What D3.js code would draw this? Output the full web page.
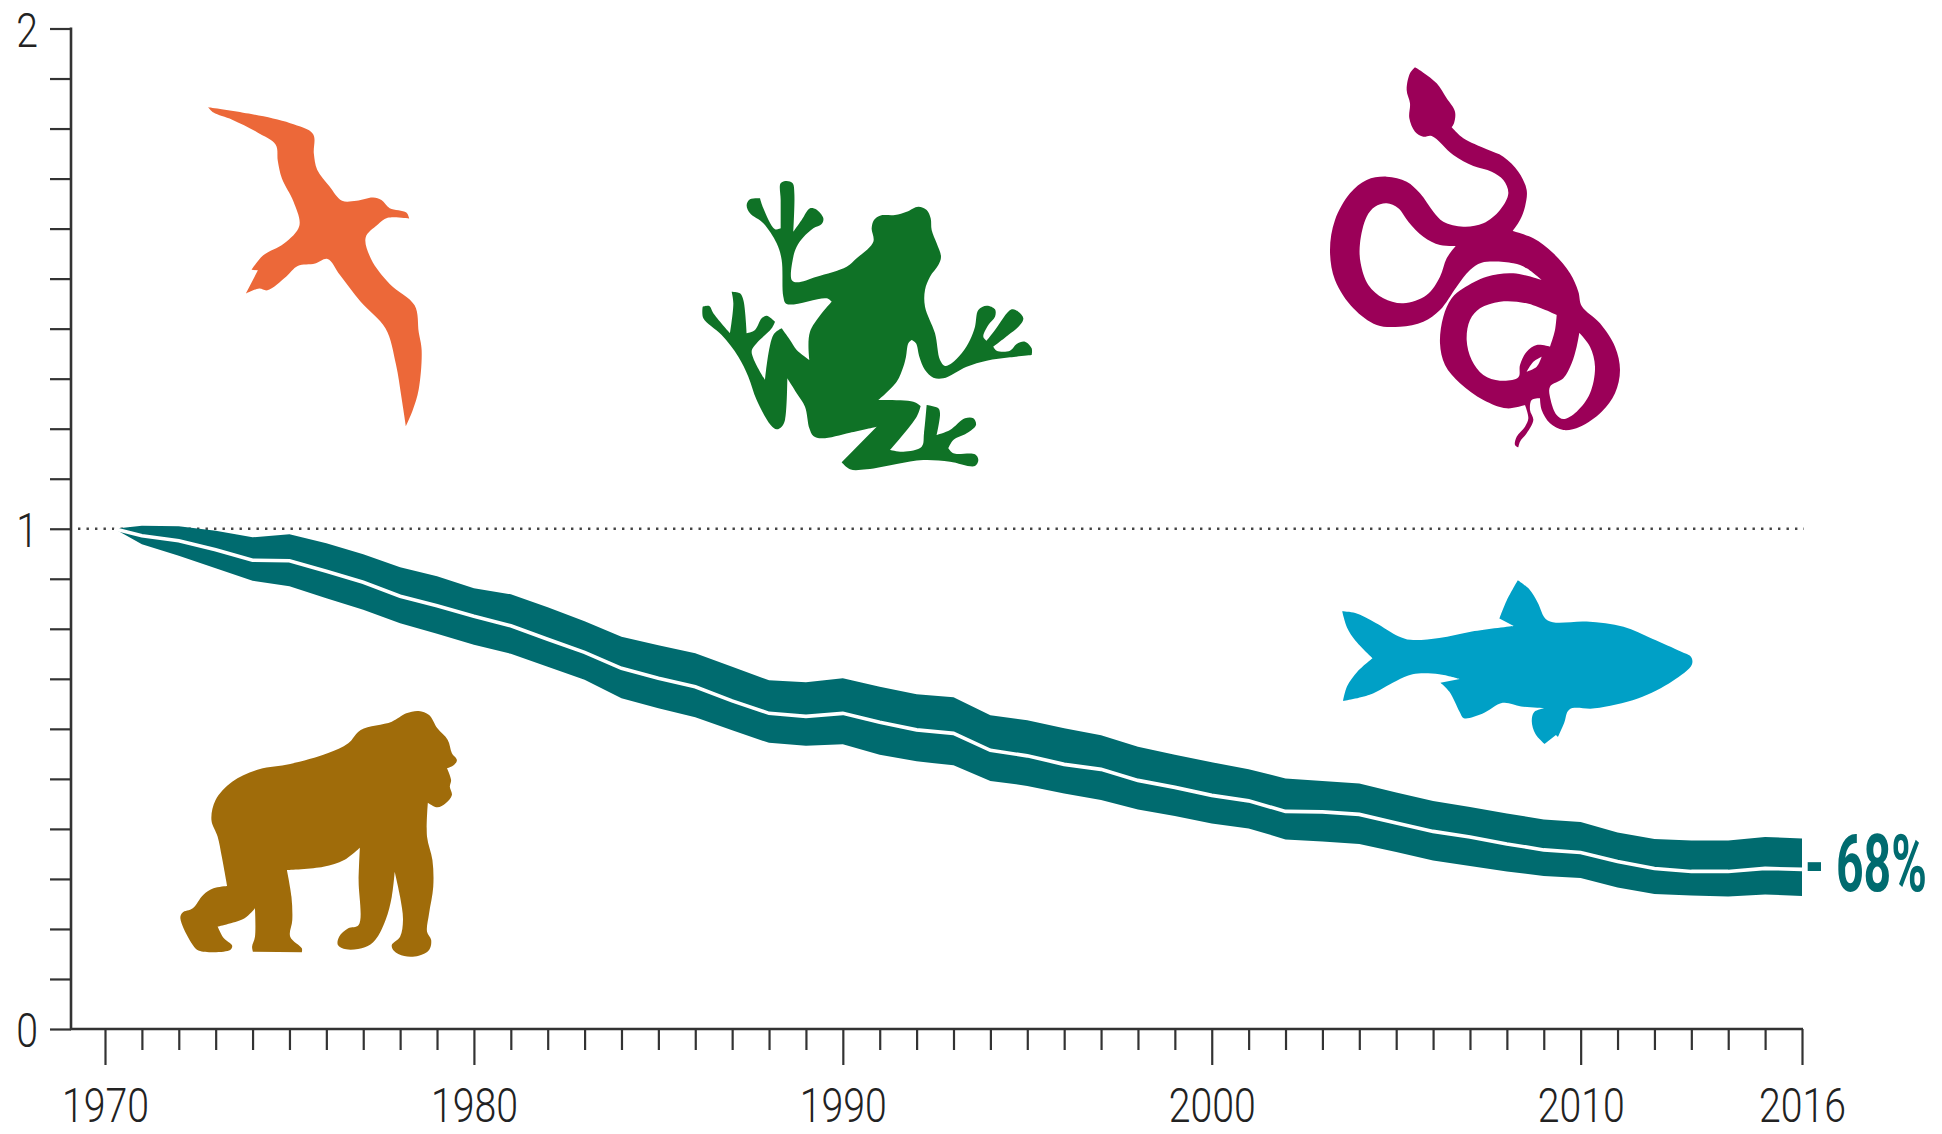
<!DOCTYPE html>
<html><head><meta charset="utf-8">
<script src="https://cdn.jsdelivr.net/npm/d3@7/dist/d3.min.js"></script>
<style>
html,body{margin:0;padding:0;background:#fff}
svg{display:block}
</style></head><body>
<script>
// ---- data ----
const years = [1970.25,1971,1972,1973,1974,1975,1976,1977,1978,1979,1980,1981,1982,1983,1984,1985,1986,1987,1988,1989,1990,1991,1992,1993,1994,1995,1996,1997,1998,1999,2000,2001,2002,2003,2004,2005,2006,2007,2008,2009,2010,2011,2012,2013,2014,2015,2016];
const upper = [1.0,1.006,1.005,0.996,0.983,0.989,0.971,0.949,0.923,0.905,0.881,0.869,0.843,0.815,0.784,0.767,0.751,0.724,0.697,0.693,0.701,0.684,0.669,0.663,0.627,0.617,0.601,0.587,0.564,0.548,0.533,0.519,0.501,0.496,0.491,0.473,0.456,0.444,0.431,0.419,0.414,0.393,0.380,0.377,0.377,0.384,0.381];
const centre = [1.0,0.986,0.976,0.958,0.937,0.936,0.915,0.893,0.865,0.846,0.825,0.806,0.779,0.753,0.721,0.701,0.684,0.656,0.631,0.625,0.631,0.613,0.598,0.591,0.557,0.546,0.529,0.519,0.497,0.483,0.467,0.456,0.435,0.434,0.429,0.412,0.395,0.384,0.370,0.358,0.353,0.335,0.321,0.315,0.315,0.321,0.319];
const lower = [1.0,0.969,0.946,0.921,0.896,0.885,0.861,0.838,0.811,0.790,0.768,0.750,0.724,0.698,0.661,0.641,0.623,0.597,0.572,0.566,0.569,0.548,0.535,0.527,0.496,0.486,0.471,0.458,0.439,0.426,0.411,0.401,0.379,0.375,0.370,0.354,0.337,0.326,0.315,0.306,0.302,0.283,0.270,0.267,0.265,0.269,0.266];
const yTicks = [0,0.1,0.2,0.3,0.4,0.5,0.6,0.7,0.8,0.9,1,1.1,1.2,1.3,1.4,1.5,1.6,1.7,1.8,1.9,2];
const yLabels = [0,1,2];
const xMinor = [1971,1972,1973,1974,1975,1976,1977,1978,1979,1981,1982,1983,1984,1985,1986,1987,1988,1989,1991,1992,1993,1994,1995,1996,1997,1998,1999,2001,2002,2003,2004,2005,2006,2007,2008,2009,2011,2012,2013,2014,2015];
const xMajor = [1970,1980,1990,2000,2010,2016];
const changeLabel = "- 68%";

// ---- silhouettes (decoration, not data) ----
const birdPts = [[502,300],[600,318],[700,345],[755,375],[757,430],[765,475],[795,522],[825,562],[860,562],[900,553],[920,560],[940,583],[980,595],[987,612],[935,610],[910,630],[882,665],[895,725],[940,795],[1000,855],[1010,930],[1017,980],[1010,1090],[995,1150],[979,1193],[968,1110],[955,1020],[930,920],[870,845],[820,770],[790,725],[760,738],[718,745],[690,775],[645,813],[625,808],[593,822],[622,757],[607,755],[635,715],[685,682],[722,632],[708,565],[680,500],[670,450],[665,405],[620,370],[560,335],[515,315]];
const frogPts = [[392,100],[410,93],[428,100],[433,130],[430,245],[455,210],[480,175],[498,178],[520,205],[515,222],[490,235],[460,262],[440,290],[430,320],[425,390],[440,397],[500,380],[590,350],[620,325],[670,275],[665,235],[672,210],[690,197],[735,195],[770,185],[805,170],[830,180],[842,205],[845,240],[860,280],[873,320],[865,345],[840,380],[825,420],[825,470],[855,550],[870,630],[885,648],[905,640],[935,610],[960,570],[975,530],[985,480],[1010,467],[1035,478],[1035,500],[1015,525],[1000,560],[1010,572],[1035,540],[1085,478],[1105,485],[1120,505],[1110,525],[1075,555],[1030,590],[1040,602],[1080,602],[1100,582],[1125,575],[1145,595],[1145,615],[1080,622],[1010,632],[950,650],[880,685],[850,683],[825,660],[808,620],[798,580],[785,570],[775,580],[768,620],[760,650],[740,695],[685,750],[790,755],[812,768],[800,800],[720,900],[760,905],[815,890],[822,850],[830,765],[865,775],[870,790],[860,855],[900,840],[945,805],[970,805],[978,825],[950,850],[910,870],[895,895],[910,910],[975,913],[985,930],[975,948],[900,935],[820,930],[740,942],[650,958],[600,958],[575,937],[680,830],[600,848],[515,865],[490,858],[478,835],[465,770],[440,730],[412,685],[405,810],[395,830],[380,838],[362,825],[320,750],[295,680],[265,620],[215,555],[160,505],[158,470],[178,468],[190,490],[240,550],[250,460],[245,425],[270,430],[280,450],[290,550],[315,540],[335,505],[350,497],[375,515],[365,535],[320,580],[305,605],[345,690],[370,555],[395,535],[420,570],[440,600],[478,630],[480,545],[545,455],[530,445],[410,462],[400,440],[395,330],[380,280],[340,220],[300,190],[290,165],[300,148],[330,145],[340,175],[375,238],[392,235],[392,150]];
const snakeOuter = [[345,52],[370,68],[410,100],[440,145],[465,185],[462,220],[455,232],[490,265],[560,298],[610,320],[655,365],[680,420],[675,470],[660,510],[638,543],[700,565],[760,610],[810,670],[835,725],[845,768],[900,820],[945,890],[960,960],[945,1030],[905,1085],[840,1130],[790,1140],[750,1120],[725,1080],[720,1045],[695,1050],[690,1080],[700,1110],[680,1150],[660,1175],[655,1192],[645,1185],[650,1160],[675,1130],[685,1105],[675,1065],[620,1075],[550,1050],[480,1000],[435,945],[420,880],[430,800],[455,745],[490,715],[560,680],[640,670],[725,690],[680,655],[640,640],[545,638],[510,660],[470,710],[420,780],[370,815],[300,830],[230,825],[160,775],[105,690],[90,600],[105,510],[150,430],[200,390],[260,380],[320,395],[360,430],[400,485],[430,515],[490,530],[550,520],[600,480],[625,430],[610,390],[575,365],[520,348],[460,315],[395,258],[370,260],[345,245],[328,205],[330,160],[320,120],[330,70]];
const snakeHoleA = [[260,460],[295,475],[325,515],[370,560],[420,585],[467,588],[440,625],[420,680],[380,735],[310,760],[250,745],[205,705],[182,640],[180,580],[200,500],[225,470]];
const snakeHoleB = [[600,755],[680,760],[770,795],[765,840],[750,890],[710,885],[680,905],[660,945],[655,982],[600,992],[550,975],[515,930],[500,870],[510,810],[540,775]];
const snakeHoleC = [[838,848],[870,890],[885,950],[870,1030],[830,1085],[790,1107],[770,1095],[752,1050],[750,1010],[790,985],[815,940],[830,890]];
const snakeHoleD = [[680,965],[700,935],[725,920],[710,950]];
const fishPts = [[103,140],[135,145],[185,172],[240,208],[270,218],[340,213],[420,195],[522,180],[487,160],[505,110],[532,55],[560,80],[580,115],[605,165],[700,168],[790,182],[860,215],[930,250],[955,265],[957,285],[910,330],[825,378],[720,405],[658,408],[645,445],[630,483],[625,478],[597,502],[575,475],[566,440],[572,415],[597,405],[540,400],[495,390],[445,420],[400,432],[390,415],[365,360],[343,335],[390,325],[340,312],[275,312],[235,330],[170,368],[105,385],[115,345],[140,305],[177,268],[135,220],[115,185]];
const gorillaPts = [[1010,93],[1035,105],[1055,145],[1080,180],[1090,220],[1102,240],[1095,255],[1078,265],[1088,300],[1085,320],[1090,345],[1075,370],[1055,382],[1032,368],[1030,470],[1043,540],[1045,620],[1035,700],[1030,755],[1040,780],[1035,810],[1010,827],[975,828],[950,812],[945,795],[965,770],[972,720],[965,650],[952,575],[945,650],[930,720],[905,780],[880,802],[835,808],[815,795],[818,770],[840,745],[865,735],[865,600],[868,503],[830,540],[780,560],[692,570],[703,650],[705,720],[700,770],[728,805],[728,817],[610,815],[608,800],[615,770],[615,685],[590,715],[525,740],[540,775],[560,797],[555,810],[480,812],[465,795],[435,715],[440,698],[465,685],[490,645],[515,625],[548,618],[535,530],[525,470],[510,420],[520,360],[560,305],[625,268],[700,252],[790,220],[840,190],[870,150],[945,125],[980,100]];

// ---- layout ----
const W = 1942, H = 1134;
const axisX = 71, baseY = 1029, topY = 28.5;
const x = d3.scaleLinear().domain([1970,2016]).range([105,1802]);
const y = d3.scaleLinear().domain([0,2]).range([baseY,topY]);
const teal = "#006b6f", ink = "#333";
const labelFont = 'Roboto,"Liberation Sans",sans-serif';
const squeeze = 0.8;

const svg = d3.select("body").append("svg").attr("width",W).attr("height",H).attr("viewBox",`0 0 ${W} ${H}`);

// silhouettes: smooth runs between sharp corners, so tips stay sharp
const run = d3.line().curve(d3.curveCatmullRom.alpha(0.5));
function ringPath(pts){
  const n = pts.length;
  const corner = i => {
    const a = pts[(i+n-1)%n], b = pts[i], c = pts[(i+1)%n];
    const a1 = Math.atan2(b[1]-a[1],b[0]-a[0]), a2 = Math.atan2(c[1]-b[1],c[0]-b[0]);
    let t = Math.abs(a2-a1); if (t>Math.PI) t = 2*Math.PI-t;
    return t > 75*Math.PI/180;
  };
  const corners = d3.range(n).filter(corner);
  if (!corners.length) return d3.line().curve(d3.curveCatmullRomClosed.alpha(0.5))(pts);
  const start = corners[0];
  const order = d3.range(n+1).map(k => pts[(start+k)%n]);
  const flags = d3.range(n+1).map(k => corner((start+k)%n));
  let out = "", piece = [order[0]];
  for (let k=1;k<=n;k++){
    piece.push(order[k]);
    if (flags[k]){
      const s = run(piece);
      out += out ? s.replace(/^M/,"L") : s;
      piece = [order[k]];
    }
  }
  return out + "Z";
}
function shape(rings, ox, oy, sx, sy, fill){
  const d = rings.map(r => ringPath(r.map(p => [ox+p[0]*sx, oy+p[1]*sy]))).join(" ");
  svg.append("path").attr("d",d).attr("fill",fill).attr("fill-rule","evenodd");
}
shape([birdPts],0,0,1/2.412,1/2.8,"#ec6839");
shape([frogPts],650,150,1/3,1/3,"#0f7226");
shape([snakeOuter,snakeHoleA,snakeHoleB,snakeHoleC,snakeHoleD],1300,50,1/3,1/3,"#9b0058");
shape([fishPts],1300,560,1/2.442,1/2.73,"#00a0c6");
shape([gorillaPts],0,680,1/2.412,1/3,"#a06c0a");

// reference line at 1
svg.append("line").attr("x1",78).attr("x2",x(2016)+2).attr("y1",y(1)).attr("y2",y(1))
  .attr("stroke","#444").attr("stroke-width",2.4).attr("stroke-dasharray","2.4 6.1");

// band and central line
const rows = years.map((yr,i)=>({yr,u:upper[i],c:centre[i],l:lower[i]}));
svg.append("path").datum(rows).attr("fill",teal)
  .attr("d",d3.area().x(d=>x(d.yr)).y0(d=>y(d.l)).y1(d=>y(d.u)));
svg.append("path").datum(rows).attr("fill","none").attr("stroke","#fff").attr("stroke-width",3.6)
  .attr("d",d3.line().x(d=>x(d.yr)).y(d=>y(d.c)));

// axes
const yAxis = svg.append("g").attr("transform",`translate(${axisX},0)`)
  .call(d3.axisLeft(y).tickValues(yTicks).tickSize(21).tickPadding(12)
    .tickFormat(v=>yLabels.includes(v)?String(v):""));
const xMinorAxis = svg.append("g").attr("transform",`translate(0,${baseY})`)
  .call(d3.axisBottom(x).tickValues(xMinor).tickSize(21).tickFormat(""));
const xMajorAxis = svg.append("g").attr("transform",`translate(0,${baseY})`)
  .call(d3.axisBottom(x).tickValues(xMajor).tickSize(36).tickPadding(22).tickFormat(d3.format("d")));
[yAxis,xMinorAxis,xMajorAxis].forEach(g=>{
  g.selectAll(".domain").remove();
  g.selectAll("line").attr("stroke",ink).attr("stroke-width",2.2);
  g.selectAll("text").attr("font-size",49).attr("font-weight",300).attr("fill","#222")
    .style("font-family",labelFont);
});
xMajorAxis.selectAll("text").attr("transform",`scale(${squeeze},1)`);
yAxis.selectAll("text").each(function(){
  const t = d3.select(this), px = +t.attr("x");
  t.attr("x",0).attr("transform",`translate(${px},2) scale(${squeeze},1)`);
});
svg.append("line").attr("x1",axisX).attr("x2",axisX).attr("y1",y(2)-1).attr("y2",y(0)+1).attr("stroke",ink).attr("stroke-width",2.6);
svg.append("line").attr("x1",axisX-1).attr("x2",x(2016)+1).attr("y1",y(0)).attr("y2",y(0)).attr("stroke",ink).attr("stroke-width",2.6);

// end label
svg.append("text").attr("transform",`translate(${x(2016)+3},891) scale(0.61,1)`)
  .style("font-family",labelFont)
  .attr("font-size",79).attr("font-weight",700).attr("fill",teal)
  .text(changeLabel);
</script>
</body></html>
